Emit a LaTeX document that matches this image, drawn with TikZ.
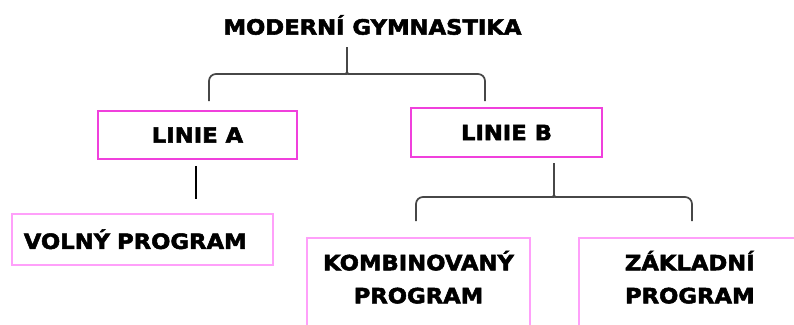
\documentclass[tikz,border=0pt]{standalone}
\usepackage{fontspec}
\newfontfamily\heavy{DejaVu Sans}[FakeStretch=1.08, FakeBold=2.5]
\definecolor{linebox}{RGB}{240,64,220}
\definecolor{progbox}{RGB}{255,160,250}
\begin{document}
\begin{tikzpicture}[x=1pt,y=-1pt,
    txt/.style={font=\heavy\bfseries\fontsize{21}{33}\selectfont, text=black},
    linie/.style={txt, draw=linebox, line width=1.8pt, minimum width=199pt, minimum height=48pt, inner sep=0pt},
    prog/.style={txt, draw=progbox, line width=1.6pt, inner sep=0pt},
    brace/.style={draw=black!72, line width=1.7pt, rounded corners=7pt},
    stem/.style={draw=black, line width=1.4pt}]
  \useasboundingbox (0,0) rectangle (794,324);
  \begin{scope}
  \clip (0,0) rectangle (794,324);

  % heading
  \node[txt] (title) at (372.5,25) {MODERNÍ GYMNASTIKA};

  % the two lines
  \node[linie] (la) at (197.5,135) {LINIE A};
  \node[linie, minimum width=191pt, minimum height=49pt] (lb) at (506.5,132.5) {LINIE B};

  % programmes
  \node[prog, anchor=north west, text width=237pt, inner xsep=12pt,
        minimum height=51pt, align=left] (vp) at (11,213) {VOLNÝ PROGRAM};
  \node[prog, anchor=north, minimum width=223pt, text depth=60pt,
        inner ysep=13pt, align=center] (kp) at (418.5,237) {KOMBINOVANÝ\\PROGRAM};
  \node[prog, anchor=north west, minimum width=222pt, text depth=60pt,
        inner ysep=13pt, align=center] (zp) at (578,237) {ZÁKLADNÍ\\PROGRAM};
  \end{scope}

  % brace below the heading
  \coordinate (tA) at (347,47);
  \coordinate (bA1) at (209,101);
  \coordinate (bA2) at (485,101);
  \draw[brace] (bA1) -- (209,74) -- (339,74)
      .. controls (345,74) and (347,72) .. (347,66) -- (tA);
  \draw[brace] (bA2) -- (485,74) -- (355,74)
      .. controls (349,74) and (347,72) .. (347,66) -- (tA);

  % stem below LINIE A
  \coordinate (sA) at (196,199);
  \draw[stem] (la.south -| sA) ++(0,6) -- (sA);

  % brace below LINIE B
  \coordinate (tB) at (554,163);
  \coordinate (bB1) at (416,221);
  \coordinate (bB2) at (692,221);
  \draw[brace] (bB1) -- (416,197) -- (546,197)
      .. controls (552,197) and (554,195) .. (554,189) -- (tB);
  \draw[brace] (bB2) -- (692,197) -- (562,197)
      .. controls (556,197) and (554,195) .. (554,189) -- (tB);
\end{tikzpicture}
\end{document}
